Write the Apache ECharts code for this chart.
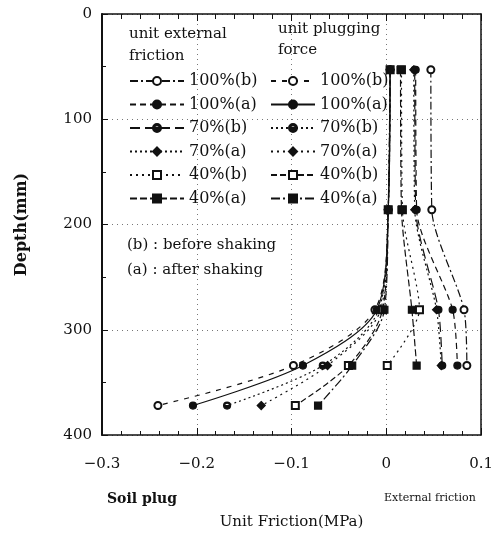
<!DOCTYPE html>
<html>
<head>
<meta charset="utf-8">
<script src="https://cdn.jsdelivr.net/npm/echarts@6/dist/echarts.min.js"></script>
<style>
  html, body { margin: 0; padding: 0; background: #fff; }
  #main { width: 496px; height: 535px; }
</style>
</head>
<body>
<div id="main"></div>
<script>
// depths (mm) at which each curve was measured
const depthsExt = [53, 186, 281, 334];
const depthsPlug = [53, 186, 281, 334, 372];

// legend labels
const labels = ['100%(b)', '100%(a)', '70%(b)', '70%(a)', '40%(b)', '40%(a)'];

// unit external friction (MPa)
const ext100b = [0.047, 0.048, 0.082, 0.085];
const ext100a = [0.031, 0.032, 0.070, 0.075];
const ext70b = [0.030, 0.031, 0.055, 0.059];
const ext70a = [0.029, 0.030, 0.053, 0.058];
const ext40b = [0.016, 0.017, 0.035, 0.001];
const ext40a = [0.015, 0.016, 0.027, 0.032];

// unit plugging force (MPa)
const plug100b = [0.004, 0.002, -0.012, -0.098, -0.241];
const plug100a = [0.004, 0.002, -0.010, -0.088, -0.204];
const plug70b = [0.004, 0.002, -0.008, -0.067, -0.168];
const plug70a = [0.004, 0.002, -0.006, -0.062, -0.132];
const plug40b = [0.004, 0.002, -0.004, -0.040, -0.096];
const plug40a = [0.004, 0.002, -0.002, -0.036, -0.072];

const xTicks = [-0.3, -0.2, -0.1, 0, 0.1];

const FONT = 'DejaVu Serif';
const INK = '#111';

// half filled circle marker
const halfCircle = 'path://M0,-10A10,10,0,1,1,0,10A10,10,0,1,1,0,-10ZM7,0A7,7,0,0,0,-7,0Z';
const symbols = ['emptyCircle', 'circle', halfCircle, 'diamond', 'emptyRect', 'rect'];

const extDash = [[8, 3, 2, 3], [6, 4], [10, 5], [2, 3], [2, 4], [7, 3]];
const plugDash = [[5, 6], 'solid', [2, 3], [2, 4], [6, 3], [9, 3, 2, 3]];

const extData = [ext100b, ext100a, ext70b, ext70a, ext40b, ext40a];
const plugData = [plug100b, plug100a, plug70b, plug70a, plug40b, plug40a];

function pairs(vals, depths) {
  return vals.map((v, i) => [v, depths[i]]);
}

const series = [];
extData.forEach((vals, i) => {
  series.push({
    name: 'e:' + labels[i],
    type: 'line',
    data: pairs(vals, depthsExt),
    smooth: 0.25,
    symbol: symbols[i],
    symbolSize: symbols[i] === 'diamond' ? 8 : 7,
    lineStyle: { color: INK, width: 1.2, type: extDash[i] },
    itemStyle: { color: INK, borderColor: INK, borderWidth: 1.2 },
    z: 3
  });
});
plugData.forEach((vals, i) => {
  series.push({
    name: 'p:' + labels[i],
    type: 'line',
    data: pairs(vals, depthsPlug),
    smooth: 0.3,
    symbol: symbols[i],
    symbolSize: symbols[i] === 'diamond' ? 8 : 7,
    lineStyle: { color: INK, width: 1.2, type: plugDash[i] },
    itemStyle: { color: INK, borderColor: INK, borderWidth: 1.2 },
    z: 3
  });
});

const chart = echarts.init(document.getElementById('main'), null, { renderer: 'canvas' });

const legendText = { fontFamily: FONT, fontSize: 16, color: INK, lineHeight: 18 };

chart.setOption({
  backgroundColor: '#fff',
  animation: false,
  textStyle: { fontFamily: FONT, color: INK },
  grid: { left: 102, right: 13, top: 14, bottom: 95 },
  legend: [
    {
      data: labels.map(l => 'e:' + l),
      orient: 'vertical',
      left: 124, top: 67,
      itemWidth: 54, itemHeight: 10, itemGap: 5.5,
      formatter: n => n.slice(2),
      textStyle: legendText,
      selectedMode: false
    },
    {
      data: labels.map(l => 'p:' + l),
      orient: 'vertical',
      left: 265, top: 67,
      itemWidth: 44, itemHeight: 10, itemGap: 5.5,
      formatter: n => n.slice(2),
      textStyle: legendText,
      selectedMode: false
    }
  ],
  xAxis: [
    {
      type: 'value', min: -0.3, max: 0.1, interval: 0.1,
      position: 'bottom',
      name: 'Unit Friction(MPa)', nameLocation: 'middle', nameGap: 80,
      nameTextStyle: { fontFamily: FONT, fontSize: 15, color: INK },
      axisLine: { onZero: false, lineStyle: { color: INK, width: 1.5 } },
      axisTick: { inside: true, length: 7, lineStyle: { color: INK } },
      minorTick: { show: true, splitNumber: 5, length: 4, lineStyle: { color: INK } },
      axisLabel: {
        margin: 22, fontFamily: FONT, fontSize: 15, color: INK,
        formatter: v => {
          const t = xTicks.find(k => Math.abs(k - v) < 1e-9);
          if (t === undefined) return '';
          if (t === 0) return '0';
          return (t < 0 ? '\u2212' : '') + Math.abs(t).toFixed(1);
        }
      },
      splitLine: { show: true, lineStyle: { color: '#777', type: [1, 4], width: 1 } }
    },
    {
      type: 'value', min: -0.3, max: 0.1, interval: 0.1,
      position: 'top',
      axisLine: { onZero: false, lineStyle: { color: INK, width: 1.5 } },
      axisTick: { inside: true, length: 7, lineStyle: { color: INK } },
      minorTick: { show: true, splitNumber: 5, length: 5, lineStyle: { color: INK } },
      axisLabel: { show: false },
      splitLine: { show: false }
    }
  ],
  yAxis: [
    {
      type: 'value', inverse: true, min: 0, max: 400, interval: 100,
      position: 'left',
      name: 'Depth(mm)', nameLocation: 'middle', nameGap: 72,
      nameTextStyle: { fontFamily: FONT, fontSize: 16, fontWeight: 'bold', color: INK },
      axisLine: { onZero: false, lineStyle: { color: INK, width: 2 } },
      axisTick: { inside: true, length: 6, lineStyle: { color: INK } },
      minorTick: { show: true, splitNumber: 2, length: 4, lineStyle: { color: INK } },
      axisLabel: { margin: 10, fontFamily: FONT, fontSize: 15, color: INK },
      splitLine: { show: true, lineStyle: { color: '#777', type: [1, 4], width: 1 } }
    },
    {
      type: 'value', inverse: true, min: 0, max: 400, interval: 100,
      position: 'right',
      axisLine: { show: true, onZero: false, lineStyle: { color: INK, width: 1.5 } },
      axisTick: { show: false },
      axisLabel: { show: false },
      splitLine: { show: false }
    }
  ],
  graphic: [
    { type: 'text', left: 129, top: 27, style: { text: 'unit external', font: '15px "DejaVu Serif"', fill: INK } },
    { type: 'text', left: 129, top: 49, style: { text: 'friction', font: '15px "DejaVu Serif"', fill: INK } },
    { type: 'text', left: 278, top: 22, style: { text: 'unit plugging', font: '15px "DejaVu Serif"', fill: INK } },
    { type: 'text', left: 278, top: 43, style: { text: 'force', font: '15px "DejaVu Serif"', fill: INK } },
    { type: 'text', left: 127, top: 238, style: { text: '(b) : before shaking', font: '15px "DejaVu Serif"', fill: INK } },
    { type: 'text', left: 127, top: 263, style: { text: '(a) : after shaking', font: '15px "DejaVu Serif"', fill: INK } },
    { type: 'text', left: 107, top: 492, style: { text: 'Soil plug', font: 'bold 14px "DejaVu Serif"', fill: INK } },
    { type: 'text', left: 384, top: 493, style: { text: 'External friction', font: '11px "DejaVu Serif"', fill: INK } }
  ],
  series: series
});
</script>
</body>
</html>
